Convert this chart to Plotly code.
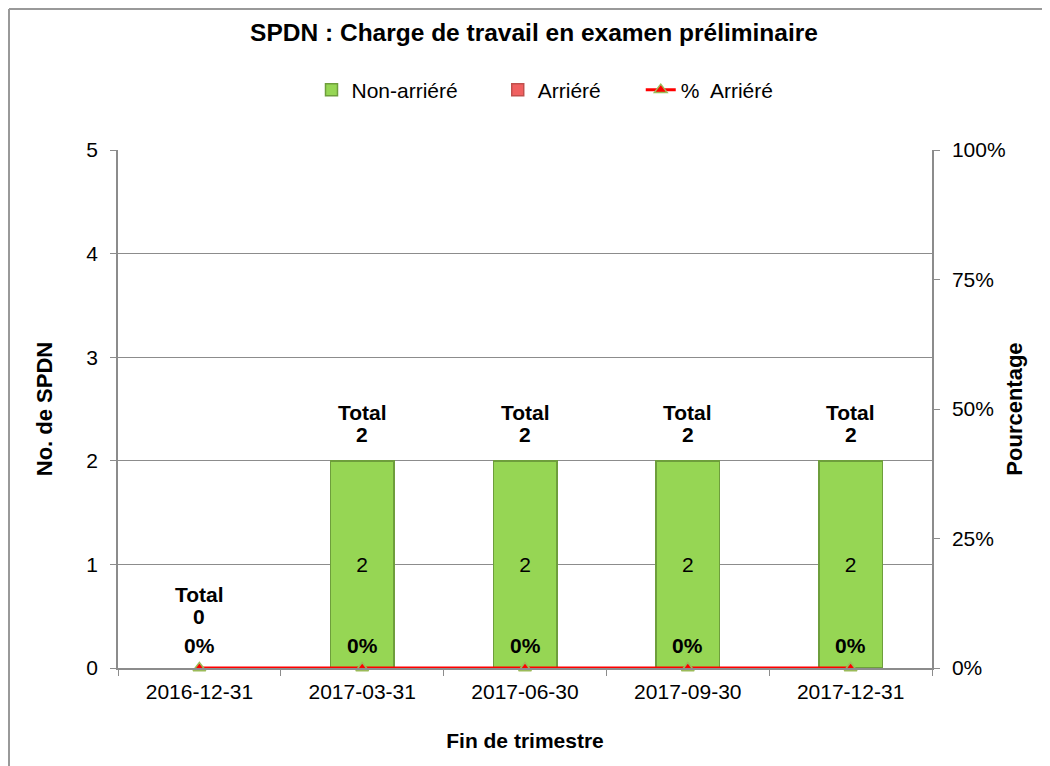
import plotly.graph_objects as go

categories = ["2016-12-31", "2017-03-31", "2017-06-30", "2017-09-30", "2017-12-31"]
non_arriere = [0, 2, 2, 2, 2]
arriere = [0, 0, 0, 0, 0]
pct_arriere = [0.0, 0.0, 0.0, 0.0, 0.0]
totals = [a + b for a, b in zip(non_arriere, arriere)]

FONT = "Liberation Sans, Arial, sans-serif"
GRID = "#8c8c8c"
PAD = "\u00a0" * 6

# page body has an 8px margin; plot area targeted at x 118..932, y 150..668
ML, MR, MT, MB = 110, 126, 142, 106
PW, PH = 1050 - ML - MR, 766 - MT - MB

fig = go.Figure()

fig.add_trace(go.Bar(
    x=categories, y=[v if v else None for v in non_arriere], name="Non-arriéré" + PAD,
    marker=dict(color="#96D654", line=dict(color="#6E9E3C", width=1.5)),
    width=0.39,
    text=[str(v) if v else "" for v in non_arriere],
    textposition="inside", insidetextanchor="middle",
    textfont=dict(size=21, color="black", family=FONT),
))
fig.add_trace(go.Bar(
    x=categories, y=[v if v else None for v in arriere], name="Arriéré" + PAD,
    marker=dict(color="#F06060", line=dict(color="#C0504D", width=1.5)),
    width=0.39,
    text=[str(v) if v else "" for v in arriere],
    textposition="inside", insidetextanchor="middle",
    textfont=dict(size=21, color="black", family=FONT),
))
fig.add_trace(go.Scatter(
    x=categories, y=pct_arriere, name="%  Arriéré", yaxis="y2",
    mode="lines+markers",
    line=dict(color="#FF0000", width=3),
    marker=dict(symbol="triangle-up", size=11, color="#FF0000",
                line=dict(color="#9BBB59", width=1.5)),
    cliponaxis=False,
))

for c, p in zip(categories, pct_arriere):
    fig.add_annotation(
        x=c, y=p, xref="x", yref="y2", text=f"<b>{p:.0%}</b>",
        showarrow=False, yanchor="middle", yshift=23,
        font=dict(size=21, color="black", family=FONT),
    )

for c, t in zip(categories, totals):
    base = 26 if t else 52
    fig.add_annotation(
        x=c, y=t, xref="x", yref="y", text="<b>Total</b>",
        showarrow=False, yanchor="middle", yshift=base + 22,
        font=dict(size=21, color="black", family=FONT),
    )
    fig.add_annotation(
        x=c, y=t, xref="x", yref="y", text=f"<b>{t}</b>",
        showarrow=False, yanchor="middle", yshift=base,
        font=dict(size=21, color="black", family=FONT),
    )

fig.update_layout(
    width=1050, height=766,
    paper_bgcolor="white", plot_bgcolor="white",
    margin=dict(l=ML, r=MR, t=MT, b=MB),
    barmode="stack",
    title=dict(text="<b>SPDN : Charge de travail en examen préliminaire</b>",
               x=(534 - 8) / 1050, xanchor="center", y=1 - (32 - 8) / 766, yanchor="middle",
               font=dict(size=24.5, color="black", family=FONT)),
    legend=dict(orientation="h", x=(545 - 118) / PW, xanchor="center",
                y=1 + (150 - 90) / PH, yanchor="middle",
                font=dict(size=21, color="black", family=FONT),
                tracegroupgap=0, traceorder="normal"),
    showlegend=True,
    font=dict(family=FONT, color="black"),
    xaxis=dict(
        type="category", tickson="boundaries", ticks="outside", ticklen=6,
        tickcolor=GRID, showline=True, linecolor=GRID, linewidth=1.5,
        showgrid=False, range=[-0.5, 4.5], ticklabelstandoff=4,
        tickfont=dict(size=21, color="black", family=FONT),
        title=dict(text="<b>Fin de trimestre</b>", font=dict(size=21, color="black", family=FONT),
                   standoff=31),
    ),
    yaxis=dict(
        range=[0, 5], dtick=1, ticks="outside", ticklen=6, tickcolor=GRID,
        showline=True, linecolor=GRID, linewidth=1.5, ticklabelstandoff=8,
        showgrid=True, gridcolor=GRID, gridwidth=1, zeroline=False,
        tickfont=dict(size=21, color="black", family=FONT),
        title=dict(text="<b>No. de SPDN</b>", font=dict(size=22, color="black", family=FONT),
                   standoff=28),
    ),
    yaxis2=dict(
        overlaying="y", side="right", range=[0, 1], dtick=0.25, tickformat=".0%",
        ticks="outside", ticklen=6, tickcolor=GRID, ticklabelstandoff=8,
        showline=True, linecolor=GRID, linewidth=1.5, showgrid=False, zeroline=False,
        tickfont=dict(size=21, color="black", family=FONT),
        title=dict(text="<b>Pourcentage</b>", font=dict(size=22, color="black", family=FONT),
                   standoff=2),
    ),
)

# outer chart frame (left and top edges visible)
fx = (9 - 118) / PW
fy = 1 + (150 - 9) / PH
fig.add_shape(type="line", xref="paper", yref="paper", x0=fx, x1=fx,
              y0=-(MB + 10) / PH, y1=fy, line=dict(color="#999999", width=2))
fig.add_shape(type="line", xref="paper", yref="paper", x0=fx, x1=1 + (MR + 10) / PW,
              y0=fy, y1=fy, line=dict(color="#999999", width=2))

fig.write_html("out.html")
